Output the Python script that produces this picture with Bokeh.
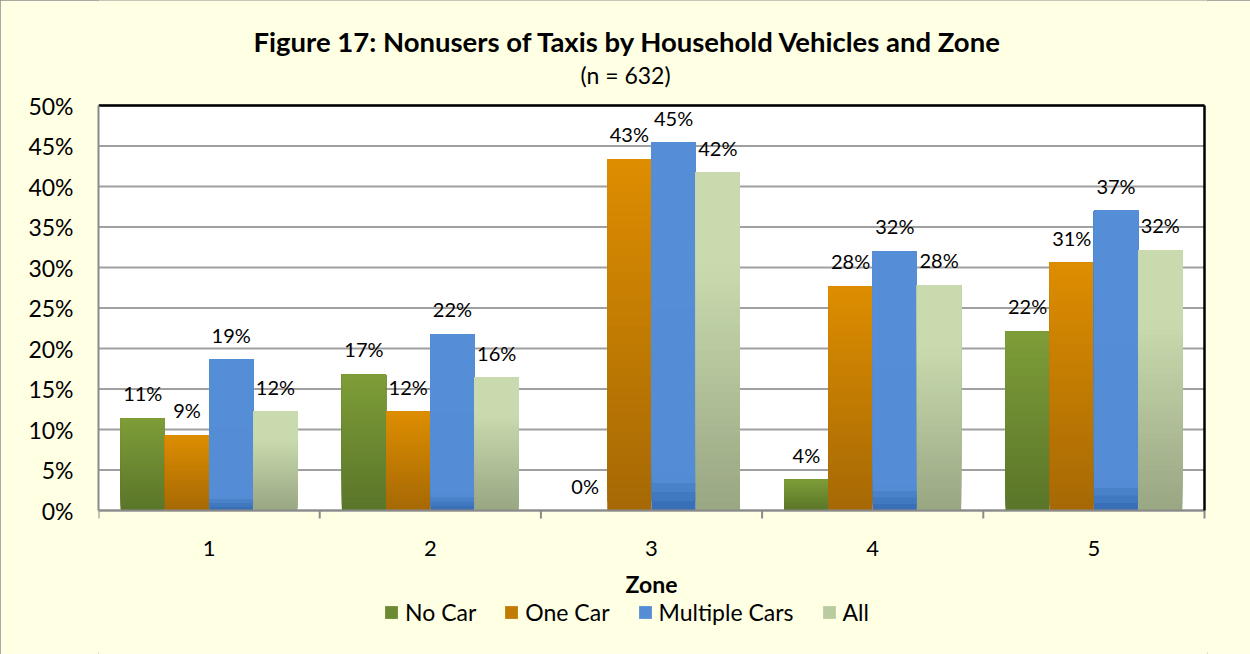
import math
from bokeh.plotting import figure
from bokeh.models import ColumnDataSource, Range1d, FixedTicker, Legend, LegendItem
from bokeh.embed import file_html
from bokeh.resources import INLINE

# ---------------- data ----------------
zones = ["1", "2", "3", "4", "5"]
series_names = ["No Car", "One Car", "Multiple Cars", "All"]
no_car = [11.4, 16.8, 0.0, 3.8, 22.1]
one_car = [9.3, 12.2, 43.4, 27.7, 30.6]
multiple_cars = [18.6, 21.8, 45.4, 32.0, 37.0]
all_households = [12.2, 16.4, 41.7, 27.8, 32.1]
y_ticks = [0, 5, 10, 15, 20, 25, 30, 35, 40, 45, 50]
y_tick_labels = ["0%", "5%", "10%", "15%", "20%", "25%", "30%", "35%", "40%", "45%", "50%"]
title_text = "Figure 17:  Nonusers of Taxis by Household Vehicles and Zone"
subtitle_text = "(n = 632)"
x_title = "Zone"

FONT = "Lato"
YELLOW = "#FFFFE4"
AXIS_GREY = "#8A8A8A"

# gradient stops (fraction of bar height from bottom, rgb)
gradients = [
    [(0.0, (90, 117, 41)), (1.0, (126, 157, 56))],
    [(0.0, (166, 105, 5)), (1.0, (221, 141, 0))],
    [(0.0, (52, 106, 178)), (0.09, (84, 141, 213)), (1.0, (85, 142, 214))],
    [(0.0, (152, 166, 130)), (0.72, (201, 218, 174)), (1.0, (201, 218, 174))],
]
series_values = [no_car, one_car, multiple_cars, all_households]
offsets = [-0.3, -0.1, 0.1, 0.3]
bar_w = 0.2
N = 40


def interp(stops, f):
    for (f0, c0), (f1, c1) in zip(stops[:-1], stops[1:]):
        if f0 <= f <= f1:
            t = 0 if f1 == f0 else (f - f0) / (f1 - f0)
            c = [round(a + (b - a) * t) for a, b in zip(c0, c1)]
            return "#%02x%02x%02x" % tuple(c)
    c = stops[-1][1]
    return "#%02x%02x%02x" % tuple(c)


x_pos = [i + 1 for i in range(len(zones))]
x_lo, x_hi = x_pos[0] - 0.5, x_pos[-1] + 0.5
y_lo, y_hi = y_ticks[0], y_ticks[-1]

# plot area: left 98, right 1204, top 105, bottom 510 (px); frame spans full height
px_per_x = (1204 - 98) / (x_hi - x_lo)
px_per_y = (510 - 105) / (y_hi - y_lo)
x_range = Range1d(x_lo, x_hi + 3 / px_per_x)
y_range = Range1d(y_hi - (654 - 105) / px_per_y, y_hi + 105 / px_per_y)

p = figure(width=1250, height=654, x_range=x_range, y_range=y_range,
           output_backend="svg", toolbar_location=None, x_axis_location=None,
           min_border_left=98, min_border_right=43, min_border_top=0,
           min_border_bottom=0, background_fill_color=YELLOW,
           border_fill_color=YELLOW, outline_line_color=None)
p.styles = {"outline": "2px solid #8C8C8C", "outline-offset": "-2px"}
p.grid.visible = False

# white plot area
p.quad(left=[x_lo], right=[x_hi], bottom=[y_lo], top=[y_hi], fill_color="white",
       line_color=None, level="image")
# horizontal gridlines
p.segment(x0=[x_lo] * len(y_ticks), x1=[x_hi] * len(y_ticks), y0=y_ticks, y1=y_ticks,
          line_color="#A0A0A0", line_width=2, level="underlay")

legend_items = []
for name, vals, off, stops in zip(series_names, series_values, offsets, gradients):
    xs, bots, tops, cols = [], [], [], []
    for x, v in zip(x_pos, vals):
        for k in range(N):
            xs.append(x + off)
            bots.append(v * k / N)
            tops.append(v)
            cols.append(interp(stops, (k + 0.5) / N))
    src = ColumnDataSource(dict(x=xs, bottom=bots, top=tops, color=cols))
    r = p.vbar(x="x", bottom="bottom", top="top", width=bar_w, source=src,
               fill_color="color", line_color=None)
    legend_items.append(LegendItem(label=name, renderers=[r], index=N // 2))

    lsrc = ColumnDataSource(dict(x=[x + off for x in x_pos], y=vals,
                                 t=["%d%%" % round(v) for v in vals]))
    p.text(x="x", y="y", text="t", source=lsrc, text_align="center",
           text_baseline="middle", y_offset=-25, text_font_size="20px",
           text_font={"value": FONT}, text_color="black")

# x axis line, boundary ticks, tick labels and axis title
p.segment(x0=[x_lo], x1=[x_hi], y0=[y_lo], y1=[y_lo], line_color=AXIS_GREY, line_width=2)
bounds = [x - 0.5 for x in x_pos] + [x_hi]
p.ray(x=bounds, y=[y_lo] * len(bounds), length=8, length_units="screen",
      angle=-math.pi / 2, line_color=AXIS_GREY, line_width=2)
p.text(x=x_pos, y=[y_lo] * len(x_pos), text=zones, text_align="center",
       text_baseline="middle", y_offset=38, text_font_size="22px",
       text_font={"value": FONT}, text_color="black")
p.text(x=[(x_lo + x_hi) / 2], y=[y_lo], text=[x_title], text_align="center",
       text_baseline="middle", y_offset=73, text_font_size="23px",
       text_font_style="bold", text_font={"value": FONT}, text_color="black")

# top / right frame borders
p.segment(x0=[x_lo, x_hi], x1=[x_hi, x_hi], y0=[y_hi, y_lo], y1=[y_hi, y_hi],
          line_color="black", line_width=2.5)

# titles
p.text(x=[x_lo], y=[y_hi], text=[title_text], text_align="left",
       text_baseline="middle", x_offset=155, y_offset=-64, text_font_size="27.5px",
       text_font_style="bold", text_font={"value": FONT}, text_color="black")
p.text(x=[x_lo], y=[y_hi], text=[subtitle_text], text_align="left",
       text_baseline="middle", x_offset=482, y_offset=-31, text_font_size="23px",
       text_font={"value": FONT}, text_color="black")

# y axis
ya = p.yaxis[0]
ya.ticker = FixedTicker(ticks=y_ticks)
ya.bounds = (y_lo, y_hi)
ya.major_label_overrides = {t: l for t, l in zip(y_ticks, y_tick_labels)}
ya.major_tick_out = 0
ya.major_tick_in = 0
ya.minor_tick_out = 0
ya.minor_tick_in = 0
ya.axis_line_color = AXIS_GREY
ya.axis_line_width = 2
ya.major_label_standoff = 25
ya.major_label_text_font = FONT
ya.major_label_text_font_size = "23px"
ya.major_label_text_color = "black"

legend = Legend(items=legend_items, orientation="horizontal", location=(285, 28),
                glyph_width=16, glyph_height=16, label_standoff=6, spacing=27,
                label_text_font=FONT, label_text_font_size="23px",
                label_text_color="black", border_line_color=None,
                background_fill_alpha=0, padding=0, margin=0)
p.add_layout(legend)

open("out.html", "w").write(file_html(p, INLINE))
